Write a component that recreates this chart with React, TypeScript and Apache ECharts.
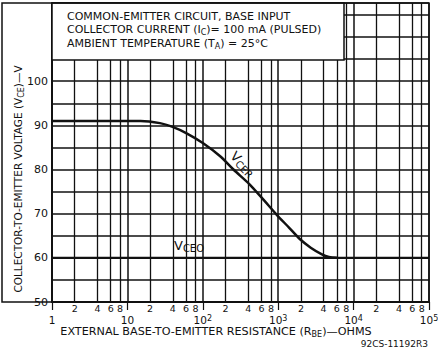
import React, { useEffect, useRef } from 'react';
import * as echarts from 'echarts';

const vcerR = [1, 10, 15, 27, 39, 61, 100, 170, 255, 420, 650, 950, 1400, 1950, 2700, 3800, 4700, 6000];
const vcerV = [91, 91, 91, 90.5, 89.7, 88.2, 86.0, 83.0, 80.0, 76.6, 73.0, 69.8, 66.8, 64.2, 62.3, 60.8, 60.2, 60];
const vceoR = [1, 100000];
const vceoV = [60, 60];
const decadeTicks = [1, 10, 100, 1000, 10000, 100000];
const minorMultipliers = [2, 4, 6, 8];
const yTickLabels = [50, 60, 70, 80, 90, 100];
const infoLines = [
  'COMMON-EMITTER CIRCUIT, BASE INPUT',
  'COLLECTOR CURRENT (I{sub|C})= 100 mA (PULSED)',
  'AMBIENT TEMPERATURE (T{sub|A}) = 25°C',
];
const yTitle = 'COLLECTOR-TO-EMITTER VOLTAGE (V{sub|CE})—V';
const xTitle = 'EXTERNAL BASE-TO-EMITTER RESISTANCE (R{sub|BE})—OHMS';
const codeText = '92CS-11192R3';

const FONT = 'DejaVu Sans';
const INK = '#111';

const minorValues = decadeTicks.slice(0, -1).flatMap((d) => minorMultipliers.map((m) => d * m));

export default function App() {
  const ref = useRef<HTMLDivElement>(null);
  useEffect(() => {
    if (!ref.current) return;
    const chart = echarts.init(ref.current, null, { renderer: 'svg' });
    const subRich = {
      sub: { fontSize: 8, lineHeight: 8, verticalAlign: 'bottom', fontFamily: FONT, fill: INK },
    };
    chart.setOption({
      animation: false,
      backgroundColor: '#fff',
      grid: { left: 52, right: 9, top: 3, bottom: 49, outerBoundsMode: 'none' },
      xAxis: [
        {
          type: 'log',
          logBase: 10,
          min: 1,
          max: 100000,
          axisLine: { show: true, lineStyle: { color: INK, width: 2 } },
          axisTick: { show: true, length: 8, lineStyle: { color: INK, width: 1.2 } },
          axisLabel: {
            margin: 12,
            fontFamily: FONT,
            fontSize: 10.5,
            lineHeight: 12,
            color: INK,
            formatter: (v: number) => {
              const e = Math.round(Math.log10(v));
              if (e === 0) return '1';
              if (e === 1) return '10';
              return `10{sup|${e}}`;
            },
            rich: { sup: { fontSize: 8, lineHeight: 8, verticalAlign: 'top', fontFamily: FONT } },
          },
          splitLine: { show: true, lineStyle: { color: INK, width: 1.5 } },
        },
        {
          type: 'log',
          logBase: 10,
          min: 1,
          max: 100000,
          position: 'bottom',
          axisLine: { show: false },
          axisTick: { show: false },
          splitLine: { show: false },
          axisLabel: {
            customValues: minorValues,
            margin: 1,
            fontFamily: FONT,
            fontSize: 9.5,
            lineHeight: 10,
            color: INK,
            formatter: (v: number) => String(Math.round(v)).charAt(0),
          },
        },
      ],
      yAxis: {
        type: 'value',
        min: 50,
        max: 117.7,
        interval: 5,
        axisLine: { show: true, lineStyle: { color: INK, width: 2 } },
        axisTick: { show: false },
        axisLabel: {
          margin: 4,
          fontFamily: FONT,
          fontSize: 11,
          color: INK,
          formatter: (v: number) => (yTickLabels.includes(v) ? String(v) : ''),
        },
        splitLine: { show: true, lineStyle: { color: INK, width: 1.5 } },
      },
      series: [
        {
          name: 'VCER',
          type: 'line',
          data: vcerR.map((r, i) => [r, vcerV[i]]),
          showSymbol: false,
          smooth: 0.3,
          lineStyle: { color: INK, width: 2.5 },
          z: 5,
        },
        {
          name: 'VCEO',
          type: 'line',
          data: vceoR.map((r, i) => [r, vceoV[i]]),
          showSymbol: false,
          lineStyle: { color: INK, width: 2.2 },
          z: 5,
          markLine: {
            silent: true,
            symbol: ['none', 'none'],
            label: { show: false },
            lineStyle: { color: INK, width: 1.3, type: 'solid' },
            data: minorValues.map((v) => ({ xAxis: v })),
            z: 1,
          },
        },
      ],
      graphic: [
        {
          type: 'rect',
          z: 100,
          shape: { x: 2, y: 3, width: 427, height: 299 },
          style: { fill: 'none', stroke: INK, lineWidth: 1.5 },
        },
        {
          type: 'rect',
          z: 90,
          shape: { x: 52, y: 3, width: 292, height: 57 },
          style: { fill: '#fff', stroke: INK, lineWidth: 1.5 },
        },
        ...infoLines.map((t, i) => ({
          type: 'text',
          z: 95,
          x: 67,
          y: 16 + i * 13.5,
          style: {
            text: t,
            fontFamily: FONT,
            fontSize: 11,
            lineHeight: 14,
            fill: INK,
            verticalAlign: 'middle',
            align: 'left',
            rich: subRich,
          },
        })),
        {
          type: 'text',
          z: 95,
          x: 18,
          y: 179,
          rotation: Math.PI / 2,
          style: {
            text: yTitle,
            fontFamily: FONT,
            fontSize: 10.5,
            lineHeight: 14,
            fill: INK,
            align: 'center',
            verticalAlign: 'middle',
            rich: subRich,
          },
        },
        {
          type: 'text',
          z: 95,
          x: 216,
          y: 331,
          style: {
            text: xTitle,
            fontFamily: FONT,
            fontSize: 11.2,
            lineHeight: 14,
            fill: INK,
            align: 'center',
            verticalAlign: 'middle',
            rich: subRich,
          },
        },
        {
          type: 'text',
          z: 95,
          x: 428,
          y: 344,
          style: {
            text: codeText,
            fontFamily: FONT,
            fontSize: 9,
            fill: INK,
            align: 'right',
            verticalAlign: 'middle',
          },
        },
        {
          type: 'text',
          z: 95,
          x: 243,
          y: 164,
          rotation: -0.8,
          style: {
            text: 'V{s|CER}',
            fontFamily: FONT,
            fontSize: 13,
            lineHeight: 16,
            fill: INK,
            align: 'center',
            verticalAlign: 'middle',
            rich: { s: { fontSize: 10, lineHeight: 10, verticalAlign: 'bottom', fontFamily: FONT, fill: INK } },
          },
        },
        {
          type: 'text',
          z: 95,
          x: 174,
          y: 245,
          style: {
            text: 'V{s|CEO}',
            fontFamily: FONT,
            fontSize: 13,
            lineHeight: 16,
            fill: INK,
            align: 'left',
            verticalAlign: 'middle',
            rich: { s: { fontSize: 10, lineHeight: 10, verticalAlign: 'bottom', fontFamily: FONT, fill: INK } },
          },
        },
      ],
    });
    return () => chart.dispose();
  }, []);
  return (
    <div
      ref={ref}
      style={{ position: 'fixed', left: 0, top: 0, width: 438, height: 351, background: '#fff' }}
    />
  );
}
